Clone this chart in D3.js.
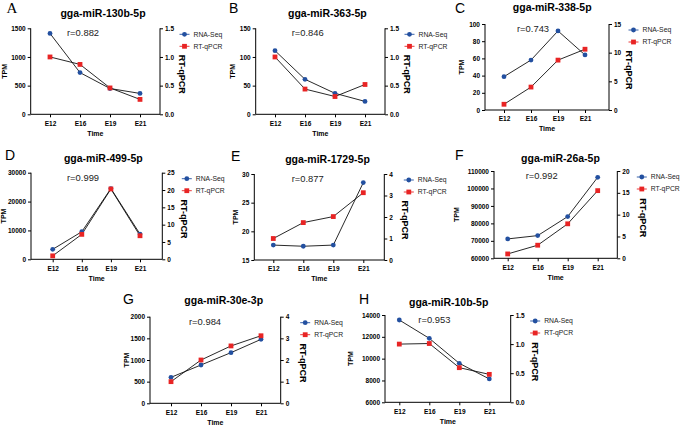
<!DOCTYPE html>
<html><head><meta charset="utf-8">
<script src="https://cdn.jsdelivr.net/npm/d3@7"></script>
<style>body{margin:0;background:#fff}svg{display:block;font-family:"Liberation Sans",Arial,sans-serif}.serif{font-family:"Liberation Serif","DejaVu Serif",serif}</style>
</head><body><svg id="c" width="685" height="425"></svg>
<script>
const categories = ["E12","E16","E19","E21"];
const letters = ["A","B","C","D","E","F","G","H"];
const titles = ["gga-miR-130b-5p","gga-miR-363-5p","gga-miR-338-5p","gga-miR-499-5p","gga-miR-1729-5p","gga-miR-26a-5p","gga-miR-30e-3p","gga-miR-10b-5p"];
const rValues = ["r=0.882","r=0.846","r=0.743","r=0.999","r=0.877","r=0.992","r=0.984","r=0.953"];
const rnaSeq = [
  [1410, 727, 450, 364],
  [111, 61, 36.6, 22.5],
  [38.8, 58.1, 91.9, 64],
  [3450, 9550, 24500, 8750],
  [17.6, 17.4, 17.6, 28.5],
  [71100, 73000, 83900, 106400],
  [600, 885, 1170, 1477],
  [13540, 11860, 9570, 8140]
];
const rtqPCR = [
  [1.0, 0.87, 0.46, 0.26],
  [1.0, 0.44, 0.31, 0.52],
  [1.0, 4.0, 8.7, 10.6],
  [1.0, 7.2, 20.3, 6.8],
  [1.0, 1.74, 2.02, 3.13],
  [1.0, 3.0, 7.9, 15.5],
  [1.0, 2.0, 2.65, 3.12],
  [1.0, 1.01, 0.595, 0.48]
];
const leftTicks = [
  [0,500,1000,1500],
  [0,50,100,150],
  [0,20,40,60,80,100],
  [0,10000,20000,30000],
  [15,20,25,30],
  [60000,70000,80000,90000,100000,110000],
  [0,500,1000,1500,2000],
  [6000,8000,10000,12000,14000]
];
const rightTicks = [
  ["0.0","0.5","1.0","1.5"],
  ["0.0","0.5","1.0","1.5"],
  ["0","5","10","15"],
  ["0","5","10","15","20","25"],
  ["0","1","2","3","4"],
  ["0","5","10","15","20"],
  ["0","1","2","3","4"],
  ["0.0","0.5","1.0","1.5"]
];
const seriesNames = ["RNA-Seq","RT-qPCR"];

// layout per panel
const layout = [
  {L:30.7,R:160,T:28.3,B:114.3,x0:50,x1:140,tx:103,ty:17,lx:6.5,ly:13,tpm:5,rt:22,rx:67},
  {L:255.7,R:385,T:28.3,B:114.3,x0:275,x1:365,tx:327.4,ty:17,lx:229,ly:13.3,tpm:232.5,rt:22.3,rx:291.7},
  {L:485,R:609,T:24,B:110,x0:504,x1:585,tx:552.2,ty:11,lx:455,ly:12.7,tpm:462,rt:20.3,rx:517},
  {L:31,R:162.3,T:172.7,B:259.3,x0:52.7,x1:140,tx:103.3,ty:162.3,lx:5,ly:160,tpm:4,rt:21.4,rx:67},
  {L:254.3,R:384.3,T:174,B:260,x0:273.3,x1:363.3,tx:327.5,ty:163.3,lx:231,ly:161,tpm:236,rt:20.4,rx:291.7},
  {L:494,R:617.3,T:171,B:258.3,x0:507.7,x1:597.7,tx:560.5,ty:161.7,lx:455,ly:160,tpm:457,rt:25.7,rx:525.7},
  {L:150,R:280.7,T:316.7,B:403.3,x0:171,x1:261,tx:223.7,ty:304.3,lx:123,ly:304.3,tpm:127,rt:22.3,rx:189},
  {L:385,R:510.7,T:315,B:402.3,x0:399.3,x1:489.3,tx:448.7,ty:306,lx:359,ly:304.3,tpm:351,rt:24,rx:418.3}
];

const BLUE = "#2350a0", RED = "#e82424";
const svg = d3.select("#c");

function drawMarker(g, type, x, y) {
  if (type === 0) g.append("circle").attr("cx", x).attr("cy", y).attr("r", 2.4).attr("fill", BLUE);
  else g.append("rect").attr("x", x - 2.4).attr("y", y - 2.4).attr("width", 4.8).attr("height", 4.8).attr("fill", RED);
}

layout.forEach((p, i) => {
  const g = svg.append("g");
  const lt = leftTicks[i];
  const rtv = rightTicks[i].map(Number);
  const x = d3.scalePoint().domain(categories).range([p.x0, p.x1]);
  const yL = d3.scaleLinear().domain([lt[0], lt[lt.length - 1]]).range([p.B, p.T]);
  const yR = d3.scaleLinear().domain([rtv[0], rtv[rtv.length - 1]]).range([p.B, p.T]);

  const ax = g.append("g").attr("transform", `translate(${p.L},0)`)
    .call(d3.axisLeft(yL).tickValues(lt).tickSize(3).tickPadding(2).tickFormat(d3.format("d")));
  const axR = g.append("g").attr("transform", `translate(${p.R},0)`)
    .call(d3.axisRight(yR).tickValues(rtv).tickSize(3).tickPadding(2).tickFormat((d, j) => rightTicks[i][j]));
  const axB = g.append("g").attr("transform", `translate(0,${p.B})`)
    .call(d3.axisBottom(x).tickSize(3).tickPadding(2));
  axB.select(".domain").attr("d", `M${p.L},0H${p.R}`);
  [ax, axR, axB].forEach(a => {
    a.selectAll(".domain").attr("stroke", "#000").attr("stroke-width", 1);
    a.selectAll(".tick line").attr("stroke", "#000").attr("stroke-width", 1);
    a.selectAll("text").attr("font-size", 6.5).attr("font-weight", "bold").attr("fill", "#000");
  });
  axB.selectAll("text").attr("dy", null).attr("y", 11.4);
  ax.selectAll(".domain").attr("d", `M0,${p.B}V${p.T}`);
  axR.selectAll(".domain").attr("d", `M0,${p.B}V${p.T}`);

  const lineL = d3.line().x((d, j) => x(categories[j])).y(d => yL(d));
  const lineR = d3.line().x((d, j) => x(categories[j])).y(d => yR(d));
  g.append("path").attr("d", lineL(rnaSeq[i])).attr("fill", "none").attr("stroke", "#111").attr("stroke-width", 0.9);
  g.append("path").attr("d", lineR(rtqPCR[i])).attr("fill", "none").attr("stroke", "#111").attr("stroke-width", 0.9);
  rnaSeq[i].forEach((v, j) => drawMarker(g, 0, x(categories[j]), yL(v)));
  rtqPCR[i].forEach((v, j) => drawMarker(g, 1, x(categories[j]), yR(v)));

  g.append("text").attr("x", p.tx).attr("y", p.ty).attr("text-anchor", "middle")
    .attr("font-size", 10.5).attr("font-weight", "bold").text(titles[i]);
  const lt2 = g.append("text").attr("x", p.lx).attr("y", p.ly).attr("font-size", 14).text(letters[i]);
  if (i === 0) lt2.attr("class", "serif").style("font-family", "'Liberation Serif', serif").attr("font-size", 15);
  g.append("text").attr("x", p.rx).attr("y", p.T + 8).attr("font-size", 9.4).attr("fill", "#222").text(rValues[i]);
  g.append("text").attr("x", (p.L + p.R) / 2).attr("y", p.B + 21.4).attr("text-anchor", "middle")
    .attr("font-size", 7).attr("font-weight", "bold").text("Time");
  g.append("text").attr("transform", `translate(${p.tpm + 2.3},${(p.T + p.B) / 2}) rotate(-90)`)
    .attr("text-anchor", "middle").attr("font-size", 7).attr("font-weight", "bold").text("TPM");
  g.append("text").attr("transform", `translate(${p.R + p.rt - 3},${(p.T + p.B) / 2 + 3}) rotate(90)`)
    .attr("text-anchor", "middle").attr("font-size", 9).attr("font-weight", "bold").text("RT-qPCR");

  seriesNames.forEach((s, k) => {
    const ly = p.T + 6 + k * 12;
    const mx = p.R + 24.5;
    g.append("line").attr("x1", mx - 5).attr("x2", mx + 5).attr("y1", ly).attr("y2", ly)
      .attr("stroke", k === 0 ? BLUE : RED).attr("stroke-width", 0.9);
    drawMarker(g, k, mx, ly);
    g.append("text").attr("x", mx + 9).attr("y", ly).attr("dy", "0.35em")
      .attr("font-size", 6.8).attr("fill", "#222").text(s);
  });
});
</script></body></html>
